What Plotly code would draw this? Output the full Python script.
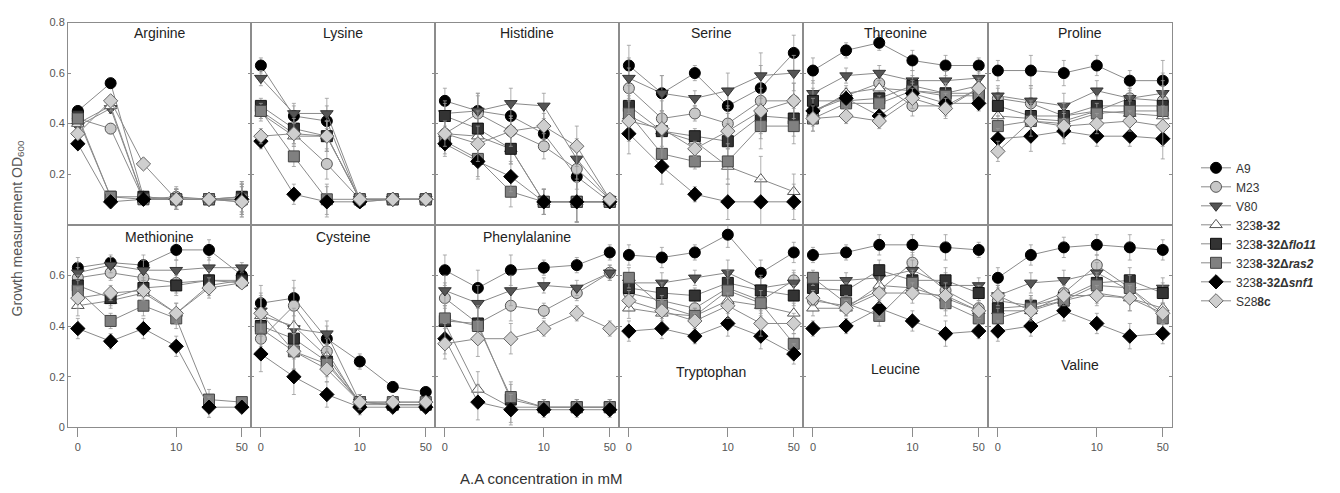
import plotly.graph_objects as go

# ---------------- data ----------------
SERIES = ["A9", "M23", "V80", "3238-32", "3238-32Δflo11", "3238-32Δras2", "3238-32Δsnf1", "S288c"]
LEGEND_LABELS = ["A9", "M23", "V80", "323<b>8-32</b>", "323<b>8-32Δ<i>flo11</i></b>",
                 "323<b>8-32Δ<i>ras2</i></b>", "323<b>8-32Δ<i>snf1</i></b>", "S28<b>8c</b>"]
X_INDEX = [0, 1, 2, 3, 4, 5]
X_TICKVALS = [0, 3, 5]
X_TICKTEXT = ["0", "10", "50"]
Y_TICKS_TOP = [0.2, 0.4, 0.6, 0.8]
Y_TICKS_BOTTOM = [0, 0.2, 0.4, 0.6]

PANELS_TOP = ["Arginine", "Lysine", "Histidine", "Serine", "Threonine", "Proline"]
PANELS_BOTTOM = ["Methionine", "Cysteine", "Phenylalanine", "Tryptophan", "Leucine", "Valine"]

# rows: A9, M23, V80, 3238-32, flo11, ras2, snf1, S288c
ARGININE = [
    [0.45, 0.56, 0.11, 0.10, 0.10, 0.11],
    [0.42, 0.38, 0.10, 0.11, 0.10, 0.09],
    [0.39, 0.46, 0.10, 0.10, 0.10, 0.10],
    [0.40, 0.47, 0.10, 0.10, 0.10, 0.10],
    [0.43, 0.11, 0.11, 0.10, 0.10, 0.11],
    [0.42, 0.11, 0.10, 0.10, 0.10, 0.10],
    [0.32, 0.09, 0.10, 0.10, 0.10, 0.10],
    [0.36, 0.49, 0.24, 0.10, 0.10, 0.09]]
LYSINE = [
    [0.63, 0.43, 0.41, 0.09, 0.10, 0.10],
    [0.45, 0.36, 0.24, 0.10, 0.10, 0.10],
    [0.58, 0.44, 0.44, 0.10, 0.10, 0.10],
    [0.44, 0.35, 0.35, 0.10, 0.10, 0.10],
    [0.47, 0.38, 0.35, 0.10, 0.10, 0.10],
    [0.45, 0.27, 0.10, 0.10, 0.10, 0.10],
    [0.33, 0.12, 0.09, 0.09, 0.10, 0.10],
    [0.35, 0.36, 0.35, 0.10, 0.10, 0.10]]
HISTIDINE = [
    [0.49, 0.45, 0.43, 0.36, 0.19, 0.09],
    [0.36, 0.44, 0.37, 0.31, 0.22, 0.10],
    [0.44, 0.45, 0.48, 0.47, 0.26, 0.10],
    [0.36, 0.35, 0.30, 0.09, 0.09, 0.09],
    [0.43, 0.38, 0.30, 0.09, 0.09, 0.09],
    [0.33, 0.26, 0.13, 0.09, 0.09, 0.09],
    [0.32, 0.25, 0.19, 0.09, 0.09, 0.09],
    [0.36, 0.32, 0.37, 0.39, 0.31, 0.10]]
SERINE = [
    [0.63, 0.52, 0.60, 0.47, 0.54, 0.68],
    [0.54, 0.42, 0.44, 0.40, 0.49, 0.49],
    [0.58, 0.52, 0.50, 0.53, 0.59, 0.60],
    [0.43, 0.37, 0.33, 0.23, 0.18, 0.13],
    [0.47, 0.37, 0.35, 0.33, 0.43, 0.42],
    [0.44, 0.28, 0.25, 0.25, 0.39, 0.39],
    [0.36, 0.23, 0.12, 0.09, 0.09, 0.09],
    [0.41, 0.38, 0.30, 0.37, 0.45, 0.49]]
THREONINE = [
    [0.61, 0.69, 0.72, 0.65, 0.63, 0.63],
    [0.45, 0.51, 0.56, 0.47, 0.47, 0.54],
    [0.52, 0.59, 0.60, 0.57, 0.57, 0.58],
    [0.44, 0.52, 0.54, 0.53, 0.52, 0.55],
    [0.49, 0.49, 0.50, 0.55, 0.52, 0.52],
    [0.42, 0.48, 0.48, 0.53, 0.51, 0.51],
    [0.45, 0.50, 0.43, 0.52, 0.48, 0.48],
    [0.42, 0.43, 0.41, 0.50, 0.46, 0.54]]
PROLINE = [
    [0.61, 0.61, 0.60, 0.63, 0.57, 0.57],
    [0.50, 0.48, 0.43, 0.45, 0.50, 0.49],
    [0.51, 0.49, 0.47, 0.53, 0.50, 0.52],
    [0.43, 0.42, 0.41, 0.45, 0.44, 0.43],
    [0.47, 0.43, 0.43, 0.47, 0.47, 0.47],
    [0.39, 0.41, 0.40, 0.44, 0.45, 0.45],
    [0.34, 0.35, 0.37, 0.35, 0.35, 0.34],
    [0.29, 0.41, 0.39, 0.40, 0.41, 0.39]]
METHIONINE = [
    [0.63, 0.65, 0.64, 0.70, 0.70, 0.60],
    [0.59, 0.61, 0.59, 0.57, 0.58, 0.57],
    [0.61, 0.64, 0.62, 0.62, 0.63, 0.63],
    [0.48, 0.50, 0.53, 0.45, 0.56, 0.58],
    [0.56, 0.51, 0.55, 0.56, 0.58, 0.58],
    [0.54, 0.42, 0.48, 0.43, 0.11, 0.10],
    [0.39, 0.34, 0.39, 0.32, 0.08, 0.08],
    [0.51, 0.53, 0.54, 0.45, 0.55, 0.57]]
CYSTEINE = [
    [0.49, 0.51, 0.35, 0.26, 0.16, 0.14],
    [0.35, 0.48, 0.30, 0.09, 0.09, 0.09],
    [0.46, 0.39, 0.37, 0.10, 0.09, 0.09],
    [0.44, 0.40, 0.28, 0.10, 0.09, 0.09],
    [0.40, 0.35, 0.26, 0.10, 0.09, 0.09],
    [0.39, 0.30, 0.25, 0.10, 0.10, 0.10],
    [0.29, 0.20, 0.13, 0.08, 0.08, 0.08],
    [0.45, 0.30, 0.23, 0.10, 0.10, 0.10]]
PHENYLALANINE = [
    [0.62, 0.55, 0.62, 0.63, 0.64, 0.69],
    [0.51, 0.41, 0.48, 0.46, 0.53, 0.61],
    [0.54, 0.49, 0.54, 0.56, 0.55, 0.61],
    [0.41, 0.15, 0.08, 0.08, 0.08, 0.08],
    [0.42, 0.41, 0.11, 0.08, 0.08, 0.08],
    [0.43, 0.40, 0.12, 0.08, 0.08, 0.08],
    [0.35, 0.10, 0.07, 0.07, 0.07, 0.07],
    [0.33, 0.35, 0.35, 0.39, 0.45, 0.39]]
TRYPTOPHAN = [
    [0.68, 0.67, 0.69, 0.76, 0.61, 0.69],
    [0.53, 0.50, 0.47, 0.55, 0.50, 0.58],
    [0.57, 0.57, 0.59, 0.61, 0.55, 0.57],
    [0.47, 0.45, 0.44, 0.50, 0.48, 0.45],
    [0.55, 0.53, 0.52, 0.57, 0.54, 0.52],
    [0.59, 0.48, 0.44, 0.54, 0.49, 0.33],
    [0.38, 0.39, 0.36, 0.41, 0.36, 0.29],
    [0.50, 0.46, 0.42, 0.48, 0.41, 0.41]]
LEUCINE = [
    [0.68, 0.69, 0.72, 0.72, 0.71, 0.70],
    [0.50, 0.48, 0.54, 0.65, 0.54, 0.47],
    [0.58, 0.58, 0.59, 0.62, 0.56, 0.56],
    [0.47, 0.47, 0.56, 0.55, 0.51, 0.46],
    [0.55, 0.54, 0.62, 0.58, 0.58, 0.53],
    [0.59, 0.49, 0.44, 0.57, 0.49, 0.43],
    [0.39, 0.40, 0.47, 0.42, 0.37, 0.38],
    [0.51, 0.47, 0.53, 0.53, 0.52, 0.46]]
VALINE = [
    [0.59, 0.68, 0.71, 0.72, 0.71, 0.70],
    [0.50, 0.48, 0.53, 0.64, 0.55, 0.45],
    [0.52, 0.57, 0.58, 0.61, 0.54, 0.55],
    [0.46, 0.46, 0.50, 0.53, 0.51, 0.47],
    [0.47, 0.48, 0.51, 0.57, 0.58, 0.53],
    [0.43, 0.47, 0.50, 0.56, 0.55, 0.43],
    [0.38, 0.40, 0.46, 0.41, 0.36, 0.37],
    [0.52, 0.46, 0.52, 0.52, 0.51, 0.45]]

# error bar half-lengths per concentration, per panel
ERR_ARGININE = [0.02, 0.02, 0.02, 0.04, 0.02, 0.06]
ERR_LYSINE = [0.03, 0.04, 0.06, 0.01, 0.01, 0.01]
ERR_HISTIDINE = [0.05, 0.07, 0.06, 0.05, 0.08, 0.01]
ERR_SERINE = [0.08, 0.07, 0.03, 0.07, 0.09, 0.07]
ERR_THREONINE = [0.05, 0.03, 0.03, 0.04, 0.04, 0.03]
ERR_PROLINE = [0.04, 0.06, 0.05, 0.04, 0.04, 0.08]
ERR_METHIONINE = [0.04, 0.03, 0.04, 0.04, 0.04, 0.02]
ERR_CYSTEINE = [0.07, 0.07, 0.05, 0.03, 0.02, 0.01]
ERR_PHENYLALANINE = [0.06, 0.07, 0.06, 0.03, 0.03, 0.03]
ERR_TRYPTOPHAN = [0.04, 0.04, 0.03, 0.05, 0.05, 0.04]
ERR_LEUCINE = [0.03, 0.03, 0.04, 0.04, 0.05, 0.03]
ERR_VALINE = [0.04, 0.04, 0.04, 0.04, 0.05, 0.04]

PANEL_DATA = [ARGININE, LYSINE, HISTIDINE, SERINE, THREONINE, PROLINE,
              METHIONINE, CYSTEINE, PHENYLALANINE, TRYPTOPHAN, LEUCINE, VALINE]
PANEL_ERR = [ERR_ARGININE, ERR_LYSINE, ERR_HISTIDINE, ERR_SERINE, ERR_THREONINE, ERR_PROLINE,
             ERR_METHIONINE, ERR_CYSTEINE, ERR_PHENYLALANINE, ERR_TRYPTOPHAN, ERR_LEUCINE, ERR_VALINE]

# ---------------- styles ----------------
W, H = 1340, 493
FONT = "Liberation Sans, Arial, sans-serif"
STYLES = [
    dict(symbol="circle", color="#000000", line="#000000"),
    dict(symbol="circle", color="#c8c8c8", line="#555555"),
    dict(symbol="triangle-down", color="#555555", line="#333333"),
    dict(symbol="triangle-up", color="#ffffff", line="#555555"),
    dict(symbol="square", color="#333333", line="#111111"),
    dict(symbol="square", color="#808080", line="#444444"),
    dict(symbol="diamond", color="#000000", line="#000000"),
    dict(symbol="diamond", color="#cfcfcf", line="#666666"),
]
COL_EDGES = [68, 251, 435, 619, 803, 988, 1172]
ROW_EDGES = [(17, 224), (224, 432)]

fig = go.Figure()
layout = {}
annotations = []

for p, data in enumerate(PANEL_DATA):
    row, col = divmod(p, 6)
    n = p + 1
    xa = "x" if n == 1 else f"x{n}"
    ya = "y" if n == 1 else f"y{n}"
    for s, vals in enumerate(data):
        st = STYLES[s]
        fig.add_trace(go.Scatter(
            x=X_INDEX, y=vals, xaxis=xa, yaxis=ya,
            mode="lines+markers",
            name=LEGEND_LABELS[s], legendgroup=SERIES[s], showlegend=(p == 0),
            line=dict(color="#8a8a8a", width=1),
            marker=dict(symbol=st["symbol"], size=11, color=st["color"],
                        line=dict(color=st["line"], width=1)),
            error_y=dict(type="data", array=PANEL_ERR[p], visible=True,
                         color="#9a9a9a", thickness=0.8, width=2),
        ))
    x0, x1 = COL_EDGES[col], COL_EDGES[col + 1]
    t, b = ROW_EDGES[row]
    xkey = "xaxis" if n == 1 else f"xaxis{n}"
    ykey = "yaxis" if n == 1 else f"yaxis{n}"
    layout[xkey] = dict(
        domain=[x0 / W, x1 / W], anchor=ya, range=[-0.3, 5.28],
        showgrid=False, zeroline=False, showline=True, mirror=True,
        linecolor="#8c8c8c", linewidth=1,
        tickvals=X_TICKVALS, ticktext=X_TICKTEXT,
        showticklabels=(row == 1), ticks="outside" if row == 1 else "",
        ticklen=9, tickcolor="#8c8c8c",
        tickfont=dict(family=FONT, size=11, color="#555555"),
    )
    layout[ykey] = dict(
        domain=[1 - b / H, 1 - t / H], anchor=xa, range=[0, 0.8],
        showgrid=False, zeroline=False, showline=True, mirror="ticks",
        linecolor="#8c8c8c", linewidth=1,
        tickvals=Y_TICKS_TOP if row == 0 else Y_TICKS_BOTTOM,
        ticktext=[f"{v:g}" for v in (Y_TICKS_TOP if row == 0 else Y_TICKS_BOTTOM)],
        showticklabels=(col == 0), ticks="inside", ticklen=3, tickcolor="#8c8c8c",
        tickfont=dict(family=FONT, size=11, color="#555555"),
    )

# panel titles
TITLE_Y = {0: 28, 1: 237}
for p, name in enumerate(PANELS_TOP + PANELS_BOTTOM):
    row, col = divmod(p, 6)
    n = p + 1
    if row == 1 and col >= 3:
        py = {3: 375, 4: 372, 5: 368}[col]
    else:
        py = TITLE_Y[row]
    annotations.append(dict(
        text=name, xref=("x" if n == 1 else f"x{n}") + " domain", x=0.5,
        yref="paper", y=1 - py / H, showarrow=False, xanchor="center", yanchor="middle",
        font=dict(family=FONT, size=14, color="#222222"),
    ))

annotations.append(dict(
    text="Growth measurement OD<sub>600</sub>", xref="paper", yref="paper",
    x=18 / W, y=1 - 228 / H, textangle=-90, showarrow=False,
    xanchor="center", yanchor="middle",
    font=dict(family=FONT, size=14, color="#555555"),
))
annotations.append(dict(
    text="A.A concentration in mM", xref="paper", yref="paper",
    x=541 / W, y=1 - 484 / H, showarrow=False, xanchor="center", yanchor="middle",
    font=dict(family=FONT, size=15, color="#333333"),
))

fig.update_layout(
    width=W, height=H,
    margin=dict(l=0, r=0, t=0, b=0),
    paper_bgcolor="white", plot_bgcolor="white",
    showlegend=True,
    legend=dict(x=1196 / W, y=1 - 151 / H, xanchor="left", yanchor="top",
                font=dict(family=FONT, size=12, color="#333333"),
                tracegroupgap=0, bgcolor="rgba(0,0,0,0)"),
    annotations=annotations,
    **layout,
)

fig.write_html("out.html")
